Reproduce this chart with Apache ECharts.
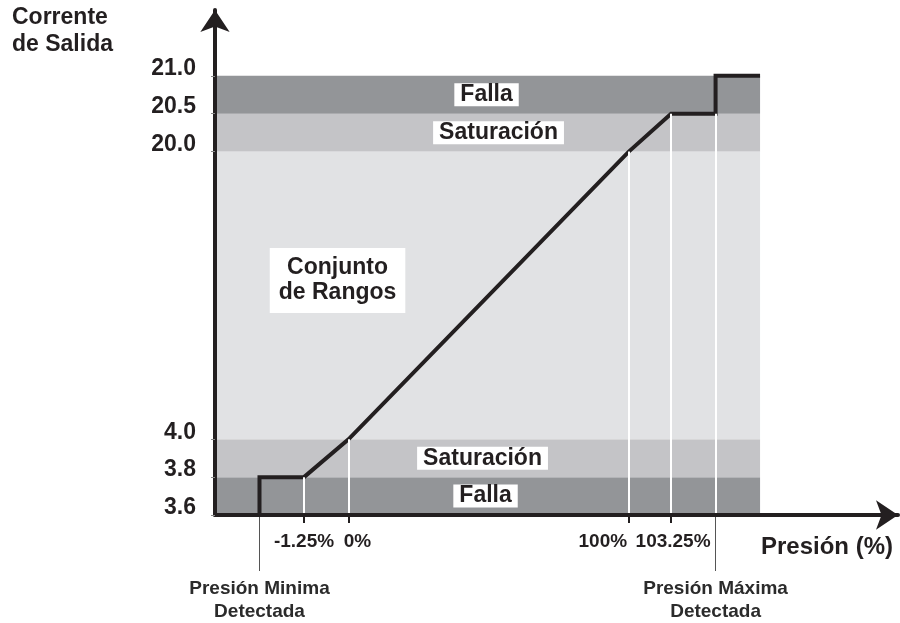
<!DOCTYPE html>
<html lang="es">
<head>
    <meta charset="UTF-8">
    <title>Corrente de Salida vs Presión</title>
    <script type="text/javascript" src="https://cdn.jsdelivr.net/npm/echarts@6/dist/echarts.min.js"></script>
    <style>
        html, body { margin: 0; padding: 0; background: #fff; }
        #chart { width: 900px; height: 623px; }
    </style>
</head>
<body>
<div id="chart"></div>
<script type="text/javascript">
    // valores
    const currentTicks = [3.6, 3.8, 4.0, 20.0, 20.5, 21.0];
    const pressureTicks = [-1.25, 0, 100, 103.25];
    const pressureTickLabels = ['-1.25%', '0%', '100%', '103.25%'];
    const detectedP = [-2.5, 106.5];
    const detectedLabels = ['Presión Minima\nDetectada', 'Presión Máxima\nDetectada'];
    // curva de salida (presión %, corriente mA)
    const curveP = [-2.5, -2.5, -1.25, 0, 100, 103.25, 106.5, 106.5, 109.75];
    const curveI = [3.6, 3.8, 3.8, 4.0, 20.0, 20.5, 20.5, 21.0, 21.0];
    // bandas
    const bandNames = ['Falla', 'Saturación', 'Conjunto\nde Rangos', 'Saturación', 'Falla'];
    const bandLow = [3.6, 3.8, 4.0, 20.0, 20.5];
    const bandHigh = [3.8, 4.0, 20.0, 20.5, 21.0];
    const bandEndP = 109.75;
    // lineas blancas de referencia, del eje hasta la curva
    const guideP = [-1.25, 0, 100, 103.25, 106.5];
    const guideI = [3.8, 4.0, 20.0, 20.5, 20.5];

    // el dibujo no es a escala: ejes quebrados, escala por tramos
    const xIn = [-2.5, -1.25, 0, 100, 103.25, 106.5, 109.75];
    const xOut = [1, 2, 3, 9.3, 10.25, 11.25, 12.25];
    const yIn = [3.6, 3.8, 4.0, 20.0, 20.5, 21.0];
    const yOut = [0, 1, 2, 9.6, 10.6, 11.6];

    function piece(ins, outs, v) {
        for (let i = 0; i < ins.length - 1; i++) {
            if (v <= ins[i + 1] || i === ins.length - 2) {
                const t = (v - ins[i]) / (ins[i + 1] - ins[i]);
                return outs[i] + t * (outs[i + 1] - outs[i]);
            }
        }
    }
    const sx = v => piece(xIn, xOut, v);
    const sy = v => piece(yIn, yOut, v);
    const near = (a, b) => Math.abs(a - b) < 1e-6;

    const FONT = "'Liberation Sans', Arial, sans-serif";
    const INK = '#231f20';
    const bandColor = {'Falla': '#939598', 'Saturación': '#c4c4c7', 'Conjunto\nde Rangos': '#e1e2e4'};
    const bandOffset = [[-2, 0], [-5, 0], [-150, -15], [11, 0], [-1, 0]];
    const tickPad = [[0, 0, 0, 0], [0, 0, 0, 18], [0, 52, 0, 0], [0, 0, 0, 4]];

    let curve = [];
    for (let i = 0; i < curveP.length; i++) {
        curve.push([sx(curveP[i]), sy(curveI[i])]);
    }

    let areas = [];
    for (let i = 0; i < bandNames.length; i++) {
        const big = bandNames[i].indexOf('\n') >= 0;
        areas.push([
            {
                name: bandNames[i],
                xAxis: 'min',
                yAxis: sy(bandLow[i]),
                itemStyle: {color: bandColor[bandNames[i]]},
                label: {
                    offset: bandOffset[i],
                    lineHeight: big ? 25 : 23,
                    padding: big ? [8, 9, 7, 9] : [0, 6, 0, 6]
                }
            },
            {xAxis: sx(bandEndP), yAxis: sy(bandHigh[i])}
        ]);
    }

    let guides = [];
    for (let i = 0; i < guideP.length; i++) {
        guides.push([
            {coord: [sx(guideP[i]), sy(3.6)]},
            {coord: [sx(guideP[i]), sy(guideI[i])]}
        ]);
    }

    let rich = {};
    for (let i = 0; i < pressureTicks.length; i++) {
        rich['p' + i] = {fontSize: 19, fontWeight: 'bold', color: INK, fontFamily: FONT, padding: tickPad[i]};
    }

    const myChart = echarts.init(document.getElementById('chart'));
    const option = {
        animation: false,
        textStyle: {fontFamily: FONT},
        title: {
            text: 'Corrente\nde Salida',
            left: 12,
            top: 4,
            padding: 0,
            textStyle: {fontSize: 23, fontWeight: 'bold', color: INK, lineHeight: 27, fontFamily: FONT}
        },
        grid: {left: 215, right: 2, top: 10, bottom: 107},
        xAxis: [
            {
                type: 'value',
                min: 0,
                max: 15.35,
                z: 10,
                splitLine: {show: false},
                axisLine: {
                    show: true,
                    symbol: ['none', 'arrow'],
                    symbolSize: [22, 22],
                    lineStyle: {color: INK, width: 4}
                },
                axisTick: {
                    show: true,
                    length: 8,
                    lineStyle: {color: INK, width: 2},
                    customValues: pressureTicks.map(sx)
                },
                axisLabel: {
                    margin: 17,
                    customValues: pressureTicks.map(sx),
                    formatter: function (v) {
                        for (let i = 0; i < pressureTicks.length; i++) {
                            if (near(sx(pressureTicks[i]), v)) return '{p' + i + '|' + pressureTickLabels[i] + '}';
                        }
                        return '';
                    },
                    rich: rich
                },
                name: 'Presión (%)',
                nameLocation: 'end',
                nameGap: -5,
                nameTextStyle: {
                    fontSize: 24, fontWeight: 'bold', color: INK, fontFamily: FONT,
                    align: 'right', verticalAlign: 'top', padding: [20, 0, 0, 0]
                }
            },
            {
                type: 'value',
                position: 'bottom',
                min: 0,
                max: 15.35,
                z: 9,
                splitLine: {show: false},
                axisLine: {show: false},
                axisTick: {
                    show: true,
                    length: 56,
                    lineStyle: {color: '#555', width: 1},
                    customValues: detectedP.map(sx)
                },
                axisLabel: {
                    margin: 62,
                    fontSize: 19,
                    fontWeight: 'bold',
                    color: '#2b2b2b',
                    lineHeight: 23,
                    customValues: detectedP.map(sx),
                    formatter: function (v) {
                        for (let i = 0; i < detectedP.length; i++) {
                            if (near(sx(detectedP[i]), v)) return detectedLabels[i];
                        }
                        return '';
                    }
                }
            }
        ],
        yAxis: {
            type: 'value',
            min: 0,
            max: 13.34,
            z: 10,
            splitLine: {show: false},
            axisLine: {
                show: true,
                symbol: ['none', 'arrow'],
                symbolSize: [22, 22],
                lineStyle: {color: INK, width: 4}
            },
            axisTick: {
                show: true,
                length: 4,
                lineStyle: {color: '#888', width: 1},
                customValues: currentTicks.map(sy)
            },
            axisLabel: {
                margin: 19,
                fontSize: 23,
                fontWeight: 'bold',
                color: INK,
                verticalAlign: 'bottom',
                lineHeight: 14,
                customValues: currentTicks.map(sy),
                formatter: function (v) {
                    for (let i = 0; i < currentTicks.length; i++) {
                        if (near(sy(currentTicks[i]), v)) return currentTicks[i].toFixed(1);
                    }
                    return '';
                }
            }
        },
        series: [
            {
                // bandas de falla / saturación / rango
                type: 'line',
                data: [],
                z: 1,
                silent: true,
                markArea: {
                    silent: true,
                    label: {
                        show: true,
                        position: 'inside',
                        fontSize: 23,
                        fontWeight: 'bold',
                        color: INK,
                        fontFamily: FONT,
                        backgroundColor: '#fff'
                    },
                    data: areas
                }
            },
            {
                // lineas blancas
                type: 'line',
                data: [],
                z: 2,
                silent: true,
                markLine: {
                    silent: true,
                    symbol: ['none', 'none'],
                    label: {show: false},
                    lineStyle: {color: '#fff', width: 2, type: 'solid'},
                    data: guides
                }
            },
            {
                type: 'line',
                data: curve,
                z: 3,
                showSymbol: false,
                symbol: 'none',
                silent: true,
                lineStyle: {color: INK, width: 4, join: 'miter'}
            }
        ]
    };
    myChart.setOption(option);
</script>
</body>
</html>
